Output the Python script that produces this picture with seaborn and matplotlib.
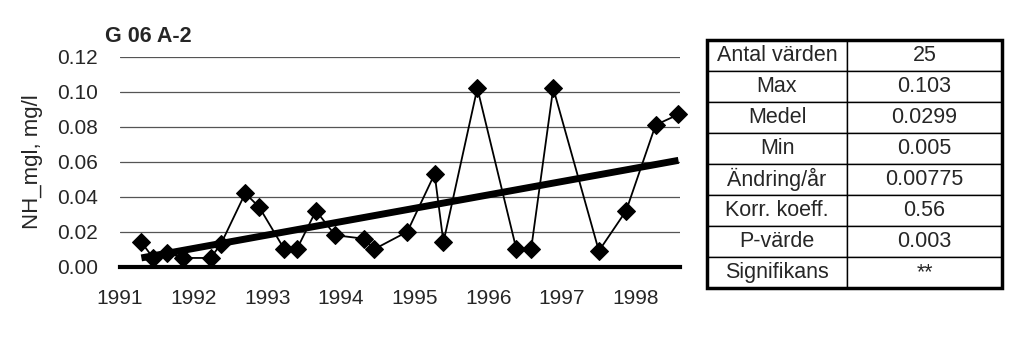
import numpy as np
import pandas as pd
import matplotlib
matplotlib.use("Agg")
import matplotlib.pyplot as plt
import seaborn as sns

# ---- data ----
years = [1991.29, 1991.45, 1991.64, 1991.85, 1992.23, 1992.37, 1992.70, 1992.89,
         1993.23, 1993.40, 1993.66, 1993.92, 1994.31, 1994.45, 1994.90, 1995.27,
         1995.39, 1995.85, 1996.38, 1996.58, 1996.88, 1997.50, 1997.87, 1998.27,
         1998.58]
values = [0.014, 0.005, 0.008, 0.005, 0.005, 0.013, 0.042, 0.034,
          0.010, 0.010, 0.032, 0.018, 0.016, 0.010, 0.020, 0.053,
          0.014, 0.102, 0.010, 0.010, 0.102, 0.009, 0.032, 0.081,
          0.087]
xticks = [1991, 1992, 1993, 1994, 1995, 1996, 1997, 1998]
yticks = [0.00, 0.02, 0.04, 0.06, 0.08, 0.10, 0.12]
title = "G 06 A-2"
ylabel = "NH_mgl, mg/l"
stat_names = ["Antal värden", "Max", "Medel", "Min", "Ändring/år",
              "Korr. koeff.", "P-värde", "Signifikans"]
stat_values = ["25", "0.103", "0.0299", "0.005", "0.00775", "0.56", "0.003", "**"]

df = pd.DataFrame({"year": years, "value": values})

sns.set_theme(style="white")
plt.rcParams["font.family"] = ["Liberation Sans", "DejaVu Sans"]

fig = plt.figure(figsize=(10.24, 3.47), dpi=100)
ax = fig.add_axes([0.1172, 0.2314, 0.664 - 0.1172, 0.8366 - 0.2314])

# trend line
sns.regplot(data=df, x="year", y="value", scatter=False, ci=None, truncate=True,
            line_kws=dict(color="black", lw=5, solid_capstyle="butt"), ax=ax)
# data line with diamond markers
sns.lineplot(data=df, x="year", y="value", color="black", lw=1.3, marker="D",
             markersize=9, markeredgecolor="black", ax=ax, clip_on=False)

ax.set_xlim(1991, 1998.6)
ax.set_ylim(0, 0.12)
ax.set_xticks(xticks)
ax.set_xticklabels([str(t) for t in xticks], fontsize=15)
ax.set_yticks(yticks)
ax.set_yticklabels([f"{t:.2f}" for t in yticks], fontsize=15)
ax.yaxis.grid(True, color="#555555", lw=0.9)
ax.xaxis.grid(False)
for s in ["left", "right", "top"]:
    ax.spines[s].set_visible(False)
ax.spines["bottom"].set_linewidth(3)
ax.spines["bottom"].set_color("black")
ax.tick_params(axis="x", direction="out", length=7, width=3, color="black", pad=9)
ax.tick_params(axis="y", length=0, pad=16)
ax.set_xlabel("")
ax.set_ylabel(ylabel, fontsize=16, labelpad=10)
ax.set_title(title, fontsize=15.5, fontweight="bold", loc="left", x=-0.027, y=1.03)

# statistics table
tax = fig.add_axes([707 / 1024, 1 - 288 / 347, (1002 - 707) / 1024, (288 - 40) / 347])
tax.axis("off")
tbl = tax.table(cellText=[[n, v] for n, v in zip(stat_names, stat_values)],
                cellLoc="center", colWidths=[140 / 295, 155 / 295],
                bbox=[0, 0, 1, 1])
tbl.auto_set_font_size(False)
tbl.set_fontsize(15.5)
for (r, c), cell in tbl.get_celld().items():
    cell.set_linewidth(1.0)
    cell.set_edgecolor("black")
    cell.set_facecolor("white")
tax.add_patch(plt.Rectangle((0, 0), 1, 1, transform=tax.transAxes, fill=False,
                            lw=2.5, edgecolor="black", clip_on=False))

fig.savefig("out.png", dpi=100, facecolor="white")
